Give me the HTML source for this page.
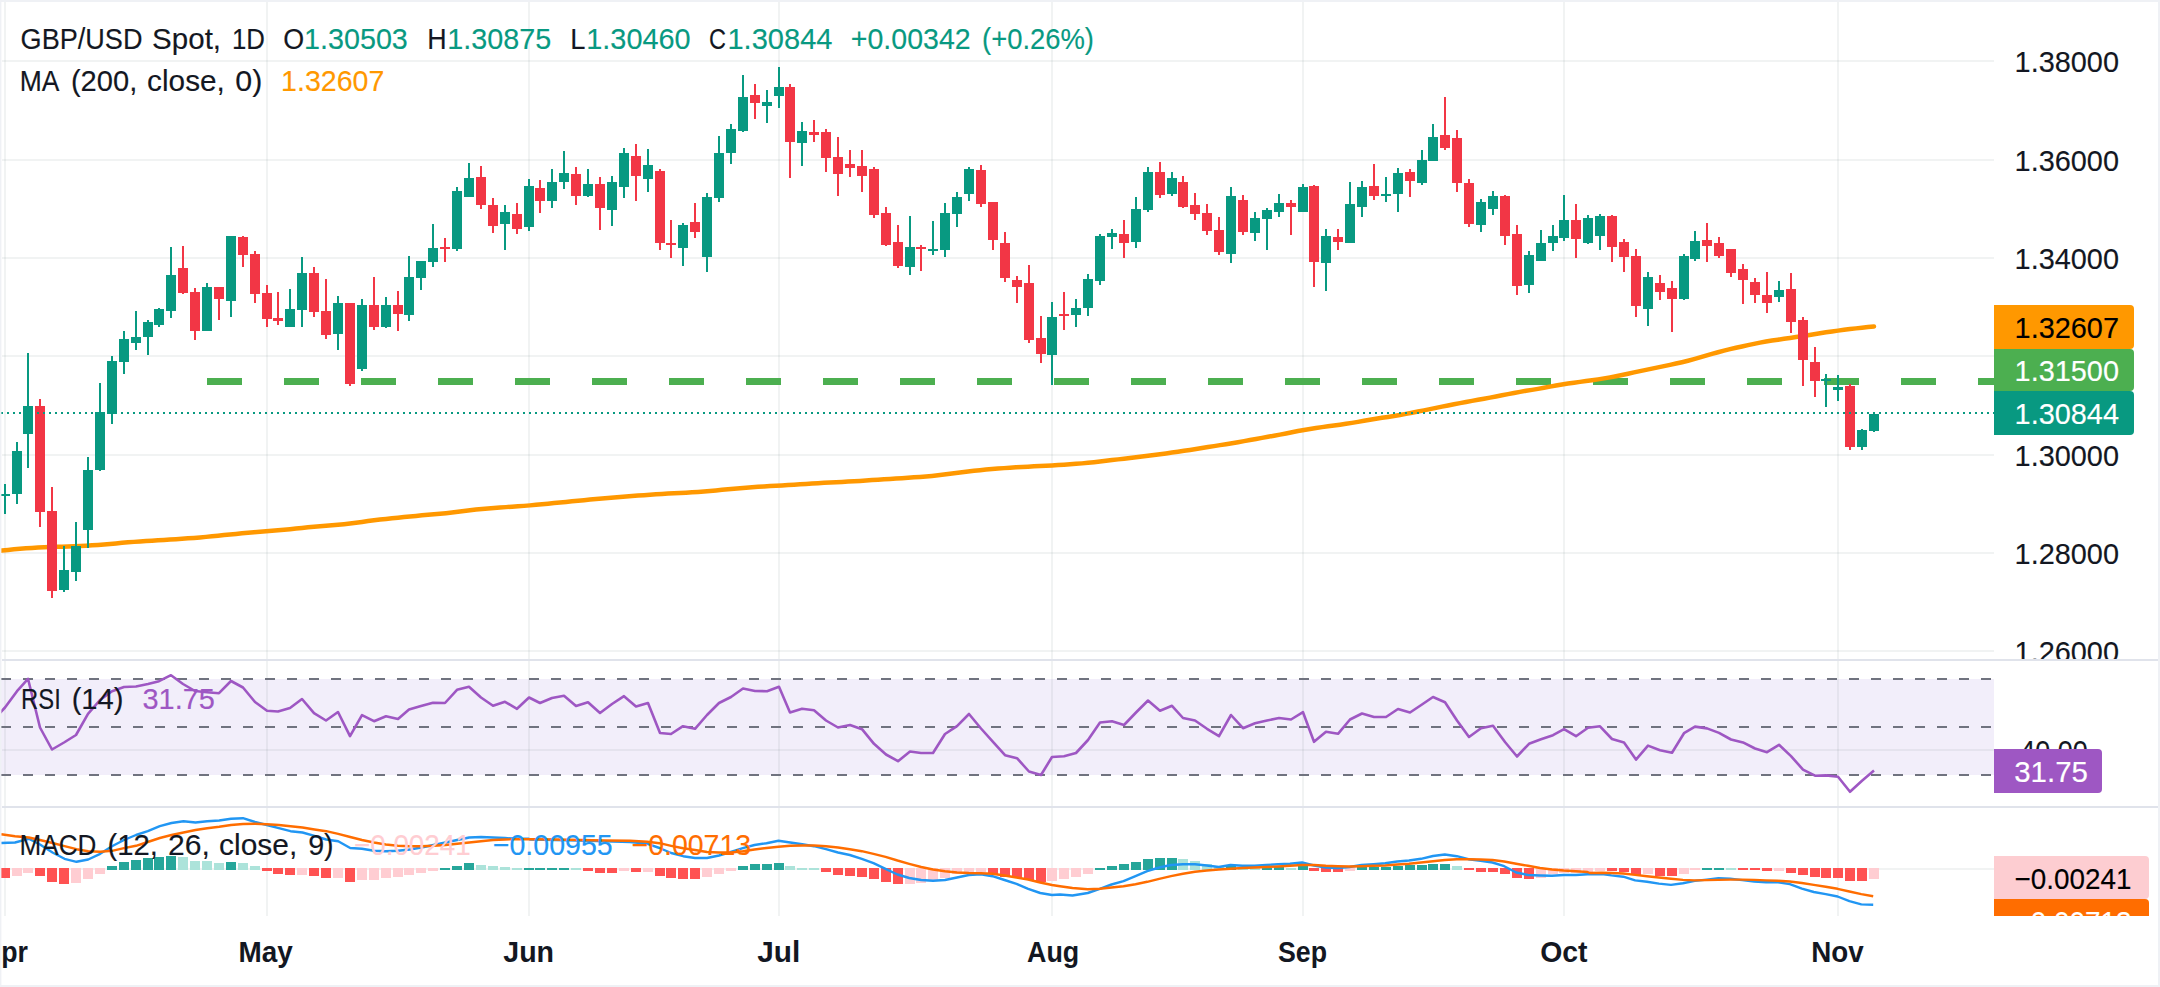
<!DOCTYPE html>
<html lang="en"><head><meta charset="utf-8"><title>GBP/USD Spot, 1D</title>
<style>html,body{margin:0;padding:0;background:#fff;}body{width:2160px;height:987px;overflow:hidden;}svg{display:block;}text{font-family:"Liberation Sans", Arial, sans-serif;}</style></head><body>
<svg width="2160" height="987" viewBox="0 0 2160 987">
<rect x="0" y="0" width="2160" height="987" fill="#ffffff"/>
<rect x="1" y="679" width="1993" height="96" fill="#f2eefa" shape-rendering="crispEdges"/>
<g shape-rendering="crispEdges" fill="rgb(80,105,105)" fill-opacity="0.08">
<rect x="2" y="60" width="1992" height="2"/>
<rect x="2" y="159" width="1992" height="2"/>
<rect x="2" y="257" width="1992" height="2"/>
<rect x="2" y="355" width="1992" height="2"/>
<rect x="2" y="454" width="1992" height="2"/>
<rect x="2" y="552" width="1992" height="2"/>
<rect x="2" y="650" width="1992" height="2"/>
<rect x="2" y="749" width="1992" height="2"/>
<rect x="2" y="868" width="1992" height="2"/>
<rect x="4" y="2" width="2" height="914"/>
<rect x="266" y="2" width="2" height="914"/>
<rect x="528" y="2" width="2" height="914"/>
<rect x="778" y="2" width="2" height="914"/>
<rect x="1051" y="2" width="2" height="914"/>
<rect x="1302" y="2" width="2" height="914"/>
<rect x="1563" y="2" width="2" height="914"/>
<rect x="1837" y="2" width="2" height="914"/>
</g>
<line x1="1" y1="679" x2="1994" y2="679" stroke="#70737f" stroke-width="2" stroke-dasharray="10 12" shape-rendering="crispEdges"/>
<line x1="1" y1="727" x2="1994" y2="727" stroke="#70737f" stroke-width="2" stroke-dasharray="10 12" shape-rendering="crispEdges"/>
<line x1="1" y1="775" x2="1994" y2="775" stroke="#70737f" stroke-width="2" stroke-dasharray="10 12" shape-rendering="crispEdges"/>
<clipPath id="cm"><rect x="0" y="0" width="2160" height="659"/></clipPath>
<g clip-path="url(#cm)">
<text x="2014.60" y="71.6" font-size="30" fill="#131722" stroke="#131722" stroke-width="0.15" textLength="104.40" lengthAdjust="spacingAndGlyphs">1.38000</text>
<text x="2014.60" y="170.6" font-size="30" fill="#131722" stroke="#131722" stroke-width="0.15" textLength="104.40" lengthAdjust="spacingAndGlyphs">1.36000</text>
<text x="2014.60" y="268.6" font-size="30" fill="#131722" stroke="#131722" stroke-width="0.15" textLength="104.40" lengthAdjust="spacingAndGlyphs">1.34000</text>
<text x="2014.60" y="465.6" font-size="30" fill="#131722" stroke="#131722" stroke-width="0.15" textLength="104.40" lengthAdjust="spacingAndGlyphs">1.30000</text>
<text x="2014.60" y="563.6" font-size="30" fill="#131722" stroke="#131722" stroke-width="0.15" textLength="104.40" lengthAdjust="spacingAndGlyphs">1.28000</text>
<text x="2014.60" y="661.6" font-size="30" fill="#131722" stroke="#131722" stroke-width="0.15" textLength="104.40" lengthAdjust="spacingAndGlyphs">1.26000</text>
</g>
<text x="2020.30" y="760.6" font-size="30" fill="#131722" stroke="#131722" stroke-width="0.15" textLength="67.31" lengthAdjust="spacingAndGlyphs">40.00</text>
<g shape-rendering="crispEdges" fill="#e0e3eb">
<rect x="2" y="659" width="2156" height="2"/>
<rect x="2" y="806" width="2156" height="2"/>
</g>
<g shape-rendering="crispEdges" fill="#4caf50">
<rect x="207.2" y="378" width="34.8" height="7"/>
<rect x="284.2" y="378" width="34.8" height="7"/>
<rect x="361.2" y="378" width="34.8" height="7"/>
<rect x="438.2" y="378" width="34.8" height="7"/>
<rect x="515.2" y="378" width="34.8" height="7"/>
<rect x="592.2" y="378" width="34.8" height="7"/>
<rect x="669.2" y="378" width="34.8" height="7"/>
<rect x="746.2" y="378" width="34.8" height="7"/>
<rect x="823.2" y="378" width="34.8" height="7"/>
<rect x="900.2" y="378" width="34.8" height="7"/>
<rect x="977.2" y="378" width="34.8" height="7"/>
<rect x="1054.2" y="378" width="34.8" height="7"/>
<rect x="1131.2" y="378" width="34.8" height="7"/>
<rect x="1208.2" y="378" width="34.8" height="7"/>
<rect x="1285.2" y="378" width="34.8" height="7"/>
<rect x="1362.2" y="378" width="34.8" height="7"/>
<rect x="1439.2" y="378" width="34.8" height="7"/>
<rect x="1516.2" y="378" width="34.8" height="7"/>
<rect x="1593.2" y="378" width="34.8" height="7"/>
<rect x="1670.2" y="378" width="34.8" height="7"/>
<rect x="1747.2" y="378" width="34.8" height="7"/>
<rect x="1824.2" y="378" width="34.8" height="7"/>
<rect x="1901.2" y="378" width="34.8" height="7"/>
<rect x="1978.2" y="378" width="15.8" height="7"/>
</g>
<polyline points="-4.0,551.00 2.0,550.46 8.0,549.90 14.0,549.33 20.0,548.79 26.0,548.32 32.0,547.93 38.0,547.61 44.0,547.31 50.0,547.06 56.0,546.83 62.0,546.64 68.0,546.45 74.0,546.23 80.0,545.98 86.0,545.69 92.0,545.37 98.0,544.99 104.0,544.53 110.0,543.99 116.0,543.41 122.0,542.85 128.0,542.34 134.0,541.88 140.0,541.45 146.0,541.04 152.0,540.65 158.0,540.28 164.0,539.91 170.0,539.54 176.0,539.16 182.0,538.75 188.0,538.34 194.0,537.90 200.0,537.42 206.0,536.88 212.0,536.30 218.0,535.70 224.0,535.10 230.0,534.50 236.0,533.90 242.0,533.32 248.0,532.76 254.0,532.25 260.0,531.79 266.0,531.32 272.0,530.84 278.0,530.32 284.0,529.77 290.0,529.18 296.0,528.55 302.0,527.91 308.0,527.28 314.0,526.70 320.0,526.17 326.0,525.67 332.0,525.19 338.0,524.70 344.0,524.18 350.0,523.55 356.0,522.80 362.0,521.95 368.0,521.08 374.0,520.27 380.0,519.55 386.0,518.91 392.0,518.30 398.0,517.70 404.0,517.10 410.0,516.50 416.0,515.91 422.0,515.34 428.0,514.80 434.0,514.29 440.0,513.78 446.0,513.23 452.0,512.59 458.0,511.85 464.0,511.05 470.0,510.27 476.0,509.57 482.0,508.98 488.0,508.47 494.0,507.99 500.0,507.54 506.0,507.13 512.0,506.73 518.0,506.33 524.0,505.88 530.0,505.38 536.0,504.83 542.0,504.26 548.0,503.67 554.0,503.09 560.0,502.50 566.0,501.90 572.0,501.31 578.0,500.72 584.0,500.15 590.0,499.60 596.0,499.06 602.0,498.54 608.0,498.03 614.0,497.53 620.0,497.05 626.0,496.57 632.0,496.09 638.0,495.61 644.0,495.14 650.0,494.68 656.0,494.27 662.0,493.92 668.0,493.60 674.0,493.29 680.0,492.97 686.0,492.63 692.0,492.28 698.0,491.89 704.0,491.46 710.0,490.96 716.0,490.39 722.0,489.81 728.0,489.24 734.0,488.71 740.0,488.21 746.0,487.73 752.0,487.28 758.0,486.86 764.0,486.47 770.0,486.10 776.0,485.74 782.0,485.38 788.0,485.02 794.0,484.66 800.0,484.30 806.0,483.94 812.0,483.58 818.0,483.22 824.0,482.87 830.0,482.53 836.0,482.21 842.0,481.90 848.0,481.59 854.0,481.25 860.0,480.88 866.0,480.48 872.0,480.06 878.0,479.66 884.0,479.27 890.0,478.90 896.0,478.54 902.0,478.16 908.0,477.77 914.0,477.36 920.0,476.93 926.0,476.46 932.0,475.90 938.0,475.26 944.0,474.56 950.0,473.84 956.0,473.10 962.0,472.33 968.0,471.56 974.0,470.82 980.0,470.14 986.0,469.56 992.0,469.05 998.0,468.57 1004.0,468.13 1010.0,467.72 1016.0,467.34 1022.0,466.99 1028.0,466.64 1034.0,466.31 1040.0,466.00 1046.0,465.70 1052.0,465.39 1058.0,465.06 1064.0,464.69 1070.0,464.29 1076.0,463.86 1082.0,463.37 1088.0,462.80 1094.0,462.15 1100.0,461.45 1106.0,460.74 1112.0,460.05 1118.0,459.38 1124.0,458.71 1130.0,458.03 1136.0,457.32 1142.0,456.58 1148.0,455.81 1154.0,455.02 1160.0,454.22 1166.0,453.40 1172.0,452.57 1178.0,451.72 1184.0,450.84 1190.0,449.93 1196.0,448.99 1202.0,448.03 1208.0,447.07 1214.0,446.11 1220.0,445.15 1226.0,444.18 1232.0,443.19 1238.0,442.17 1244.0,441.12 1250.0,440.05 1256.0,438.97 1262.0,437.89 1268.0,436.81 1274.0,435.72 1280.0,434.61 1286.0,433.45 1292.0,432.24 1298.0,431.04 1304.0,429.92 1310.0,428.91 1316.0,427.99 1322.0,427.13 1328.0,426.30 1334.0,425.50 1340.0,424.70 1346.0,423.83 1352.0,422.88 1358.0,421.85 1364.0,420.79 1370.0,419.76 1376.0,418.77 1382.0,417.83 1388.0,416.91 1394.0,415.96 1400.0,414.95 1406.0,413.87 1412.0,412.74 1418.0,411.58 1424.0,410.39 1430.0,409.16 1436.0,407.92 1442.0,406.67 1448.0,405.46 1454.0,404.28 1460.0,403.13 1466.0,401.99 1472.0,400.87 1478.0,399.77 1484.0,398.68 1490.0,397.59 1496.0,396.47 1502.0,395.32 1508.0,394.15 1514.0,392.98 1520.0,391.86 1526.0,390.84 1532.0,389.88 1538.0,388.89 1544.0,387.80 1550.0,386.63 1556.0,385.47 1562.0,384.42 1568.0,383.50 1574.0,382.68 1580.0,381.89 1586.0,381.09 1592.0,380.25 1598.0,379.36 1604.0,378.40 1610.0,377.36 1616.0,376.23 1622.0,375.01 1628.0,373.72 1634.0,372.42 1640.0,371.12 1646.0,369.85 1652.0,368.61 1658.0,367.37 1664.0,366.13 1670.0,364.86 1676.0,363.56 1682.0,362.20 1688.0,360.75 1694.0,359.16 1700.0,357.45 1706.0,355.67 1712.0,353.93 1718.0,352.26 1724.0,350.68 1730.0,349.18 1736.0,347.78 1742.0,346.43 1748.0,345.12 1754.0,343.83 1760.0,342.61 1766.0,341.52 1772.0,340.55 1778.0,339.67 1784.0,338.82 1790.0,337.96 1796.0,337.07 1802.0,336.14 1808.0,335.17 1814.0,334.19 1820.0,333.23 1826.0,332.32 1832.0,331.45 1838.0,330.62 1844.0,329.83 1850.0,329.08 1856.0,328.37 1862.0,327.70 1868.0,327.04 1874.0,326.40" fill="none" stroke="#ff9800" stroke-width="4.5" stroke-linejoin="round" stroke-linecap="round"/>
<g shape-rendering="crispEdges">
<rect x="4" y="484" width="2" height="30" fill="#089981"/>
<rect x="0" y="494" width="10" height="2" fill="#089981"/>
<rect x="16" y="442" width="2" height="62" fill="#089981"/>
<rect x="12" y="451" width="10" height="43" fill="#089981"/>
<rect x="27" y="353" width="2" height="115" fill="#089981"/>
<rect x="23" y="406" width="10" height="28" fill="#089981"/>
<rect x="39" y="399" width="2" height="128" fill="#f23645"/>
<rect x="35" y="406" width="10" height="106" fill="#f23645"/>
<rect x="51" y="487" width="2" height="111" fill="#f23645"/>
<rect x="47" y="511" width="10" height="80" fill="#f23645"/>
<rect x="63" y="546" width="2" height="46" fill="#089981"/>
<rect x="59" y="570" width="10" height="20" fill="#089981"/>
<rect x="75" y="522" width="2" height="59" fill="#089981"/>
<rect x="71" y="546" width="10" height="26" fill="#089981"/>
<rect x="87" y="457" width="2" height="91" fill="#089981"/>
<rect x="83" y="470" width="10" height="60" fill="#089981"/>
<rect x="99" y="383" width="2" height="88" fill="#089981"/>
<rect x="95" y="412" width="10" height="58" fill="#089981"/>
<rect x="111" y="356" width="2" height="68" fill="#089981"/>
<rect x="107" y="361" width="10" height="53" fill="#089981"/>
<rect x="123" y="331" width="2" height="43" fill="#089981"/>
<rect x="119" y="339" width="10" height="23" fill="#089981"/>
<rect x="135" y="311" width="2" height="39" fill="#089981"/>
<rect x="131" y="337" width="10" height="6" fill="#089981"/>
<rect x="147" y="320" width="2" height="35" fill="#089981"/>
<rect x="143" y="322" width="10" height="15" fill="#089981"/>
<rect x="158" y="308" width="2" height="19" fill="#089981"/>
<rect x="154" y="309" width="10" height="16" fill="#089981"/>
<rect x="170" y="247" width="2" height="71" fill="#089981"/>
<rect x="166" y="275" width="10" height="36" fill="#089981"/>
<rect x="182" y="246" width="2" height="48" fill="#f23645"/>
<rect x="178" y="268" width="10" height="25" fill="#f23645"/>
<rect x="194" y="288" width="2" height="52" fill="#f23645"/>
<rect x="190" y="292" width="10" height="39" fill="#f23645"/>
<rect x="206" y="283" width="2" height="48" fill="#089981"/>
<rect x="202" y="287" width="10" height="44" fill="#089981"/>
<rect x="218" y="287" width="2" height="33" fill="#f23645"/>
<rect x="214" y="287" width="10" height="12" fill="#f23645"/>
<rect x="230" y="236" width="2" height="81" fill="#089981"/>
<rect x="226" y="236" width="10" height="65" fill="#089981"/>
<rect x="242" y="236" width="2" height="31" fill="#f23645"/>
<rect x="238" y="237" width="10" height="18" fill="#f23645"/>
<rect x="254" y="251" width="2" height="52" fill="#f23645"/>
<rect x="250" y="254" width="10" height="40" fill="#f23645"/>
<rect x="266" y="285" width="2" height="42" fill="#f23645"/>
<rect x="262" y="293" width="10" height="26" fill="#f23645"/>
<rect x="277" y="292" width="2" height="33" fill="#f23645"/>
<rect x="273" y="318" width="10" height="3" fill="#f23645"/>
<rect x="289" y="289" width="2" height="38" fill="#089981"/>
<rect x="285" y="309" width="10" height="18" fill="#089981"/>
<rect x="301" y="257" width="2" height="70" fill="#089981"/>
<rect x="297" y="273" width="10" height="37" fill="#089981"/>
<rect x="313" y="267" width="2" height="50" fill="#f23645"/>
<rect x="309" y="273" width="10" height="39" fill="#f23645"/>
<rect x="325" y="279" width="2" height="60" fill="#f23645"/>
<rect x="321" y="311" width="10" height="24" fill="#f23645"/>
<rect x="337" y="296" width="2" height="54" fill="#089981"/>
<rect x="333" y="303" width="10" height="31" fill="#089981"/>
<rect x="349" y="303" width="2" height="83" fill="#f23645"/>
<rect x="345" y="303" width="10" height="81" fill="#f23645"/>
<rect x="361" y="299" width="2" height="72" fill="#089981"/>
<rect x="357" y="305" width="10" height="64" fill="#089981"/>
<rect x="373" y="277" width="2" height="53" fill="#f23645"/>
<rect x="369" y="305" width="10" height="22" fill="#f23645"/>
<rect x="385" y="297" width="2" height="31" fill="#089981"/>
<rect x="381" y="305" width="10" height="22" fill="#089981"/>
<rect x="397" y="291" width="2" height="40" fill="#f23645"/>
<rect x="393" y="305" width="10" height="9" fill="#f23645"/>
<rect x="408" y="256" width="2" height="65" fill="#089981"/>
<rect x="404" y="277" width="10" height="38" fill="#089981"/>
<rect x="420" y="261" width="2" height="29" fill="#089981"/>
<rect x="416" y="261" width="10" height="17" fill="#089981"/>
<rect x="432" y="224" width="2" height="43" fill="#089981"/>
<rect x="428" y="248" width="10" height="14" fill="#089981"/>
<rect x="444" y="238" width="2" height="24" fill="#f23645"/>
<rect x="440" y="247" width="10" height="2" fill="#f23645"/>
<rect x="456" y="187" width="2" height="64" fill="#089981"/>
<rect x="452" y="191" width="10" height="58" fill="#089981"/>
<rect x="468" y="163" width="2" height="34" fill="#089981"/>
<rect x="464" y="178" width="10" height="19" fill="#089981"/>
<rect x="480" y="166" width="2" height="43" fill="#f23645"/>
<rect x="476" y="177" width="10" height="28" fill="#f23645"/>
<rect x="492" y="198" width="2" height="35" fill="#f23645"/>
<rect x="488" y="205" width="10" height="21" fill="#f23645"/>
<rect x="504" y="205" width="2" height="45" fill="#089981"/>
<rect x="500" y="212" width="10" height="12" fill="#089981"/>
<rect x="516" y="203" width="2" height="31" fill="#f23645"/>
<rect x="512" y="214" width="10" height="15" fill="#f23645"/>
<rect x="528" y="179" width="2" height="52" fill="#089981"/>
<rect x="524" y="186" width="10" height="41" fill="#089981"/>
<rect x="539" y="180" width="2" height="33" fill="#f23645"/>
<rect x="535" y="188" width="10" height="13" fill="#f23645"/>
<rect x="551" y="169" width="2" height="39" fill="#089981"/>
<rect x="547" y="182" width="10" height="19" fill="#089981"/>
<rect x="563" y="151" width="2" height="38" fill="#089981"/>
<rect x="559" y="173" width="10" height="9" fill="#089981"/>
<rect x="575" y="167" width="2" height="38" fill="#f23645"/>
<rect x="571" y="174" width="10" height="22" fill="#f23645"/>
<rect x="587" y="169" width="2" height="28" fill="#089981"/>
<rect x="583" y="184" width="10" height="12" fill="#089981"/>
<rect x="599" y="177" width="2" height="53" fill="#f23645"/>
<rect x="595" y="184" width="10" height="24" fill="#f23645"/>
<rect x="611" y="176" width="2" height="50" fill="#089981"/>
<rect x="607" y="182" width="10" height="28" fill="#089981"/>
<rect x="623" y="148" width="2" height="50" fill="#089981"/>
<rect x="619" y="153" width="10" height="34" fill="#089981"/>
<rect x="635" y="144" width="2" height="57" fill="#f23645"/>
<rect x="631" y="156" width="10" height="20" fill="#f23645"/>
<rect x="647" y="149" width="2" height="43" fill="#089981"/>
<rect x="643" y="165" width="10" height="14" fill="#089981"/>
<rect x="659" y="169" width="2" height="81" fill="#f23645"/>
<rect x="655" y="171" width="10" height="72" fill="#f23645"/>
<rect x="670" y="220" width="2" height="38" fill="#f23645"/>
<rect x="666" y="243" width="10" height="2" fill="#f23645"/>
<rect x="682" y="223" width="2" height="43" fill="#089981"/>
<rect x="678" y="225" width="10" height="23" fill="#089981"/>
<rect x="694" y="203" width="2" height="35" fill="#f23645"/>
<rect x="690" y="222" width="10" height="10" fill="#f23645"/>
<rect x="706" y="193" width="2" height="79" fill="#089981"/>
<rect x="702" y="197" width="10" height="60" fill="#089981"/>
<rect x="718" y="136" width="2" height="66" fill="#089981"/>
<rect x="714" y="153" width="10" height="45" fill="#089981"/>
<rect x="730" y="124" width="2" height="40" fill="#089981"/>
<rect x="726" y="129" width="10" height="24" fill="#089981"/>
<rect x="742" y="75" width="2" height="57" fill="#089981"/>
<rect x="738" y="97" width="10" height="34" fill="#089981"/>
<rect x="754" y="84" width="2" height="35" fill="#f23645"/>
<rect x="750" y="95" width="10" height="8" fill="#f23645"/>
<rect x="766" y="90" width="2" height="33" fill="#089981"/>
<rect x="762" y="102" width="10" height="4" fill="#089981"/>
<rect x="778" y="67" width="2" height="41" fill="#089981"/>
<rect x="774" y="87" width="10" height="9" fill="#089981"/>
<rect x="789" y="84" width="2" height="94" fill="#f23645"/>
<rect x="785" y="87" width="10" height="55" fill="#f23645"/>
<rect x="801" y="122" width="2" height="44" fill="#089981"/>
<rect x="797" y="131" width="10" height="12" fill="#089981"/>
<rect x="813" y="120" width="2" height="22" fill="#f23645"/>
<rect x="809" y="132" width="10" height="3" fill="#f23645"/>
<rect x="825" y="129" width="2" height="43" fill="#f23645"/>
<rect x="821" y="132" width="10" height="26" fill="#f23645"/>
<rect x="837" y="137" width="2" height="59" fill="#f23645"/>
<rect x="833" y="157" width="10" height="17" fill="#f23645"/>
<rect x="849" y="150" width="2" height="27" fill="#f23645"/>
<rect x="845" y="164" width="10" height="4" fill="#f23645"/>
<rect x="861" y="150" width="2" height="42" fill="#f23645"/>
<rect x="857" y="166" width="10" height="10" fill="#f23645"/>
<rect x="873" y="167" width="2" height="51" fill="#f23645"/>
<rect x="869" y="169" width="10" height="46" fill="#f23645"/>
<rect x="885" y="207" width="2" height="39" fill="#f23645"/>
<rect x="881" y="213" width="10" height="32" fill="#f23645"/>
<rect x="897" y="225" width="2" height="43" fill="#f23645"/>
<rect x="893" y="242" width="10" height="24" fill="#f23645"/>
<rect x="909" y="216" width="2" height="59" fill="#089981"/>
<rect x="905" y="247" width="10" height="20" fill="#089981"/>
<rect x="920" y="245" width="2" height="26" fill="#f23645"/>
<rect x="916" y="247" width="10" height="2" fill="#f23645"/>
<rect x="932" y="221" width="2" height="34" fill="#089981"/>
<rect x="928" y="249" width="10" height="2" fill="#089981"/>
<rect x="944" y="203" width="2" height="54" fill="#089981"/>
<rect x="940" y="213" width="10" height="37" fill="#089981"/>
<rect x="956" y="192" width="2" height="35" fill="#089981"/>
<rect x="952" y="197" width="10" height="17" fill="#089981"/>
<rect x="968" y="167" width="2" height="34" fill="#089981"/>
<rect x="964" y="169" width="10" height="25" fill="#089981"/>
<rect x="980" y="165" width="2" height="42" fill="#f23645"/>
<rect x="976" y="170" width="10" height="34" fill="#f23645"/>
<rect x="992" y="202" width="2" height="48" fill="#f23645"/>
<rect x="988" y="202" width="10" height="38" fill="#f23645"/>
<rect x="1004" y="232" width="2" height="50" fill="#f23645"/>
<rect x="1000" y="243" width="10" height="35" fill="#f23645"/>
<rect x="1016" y="276" width="2" height="27" fill="#f23645"/>
<rect x="1012" y="280" width="10" height="7" fill="#f23645"/>
<rect x="1028" y="265" width="2" height="78" fill="#f23645"/>
<rect x="1024" y="283" width="10" height="57" fill="#f23645"/>
<rect x="1040" y="316" width="2" height="47" fill="#f23645"/>
<rect x="1036" y="338" width="10" height="16" fill="#f23645"/>
<rect x="1051" y="302" width="2" height="83" fill="#089981"/>
<rect x="1047" y="317" width="10" height="38" fill="#089981"/>
<rect x="1063" y="292" width="2" height="38" fill="#f23645"/>
<rect x="1059" y="314" width="10" height="2" fill="#f23645"/>
<rect x="1075" y="299" width="2" height="28" fill="#089981"/>
<rect x="1071" y="308" width="10" height="7" fill="#089981"/>
<rect x="1087" y="274" width="2" height="42" fill="#089981"/>
<rect x="1083" y="279" width="10" height="29" fill="#089981"/>
<rect x="1099" y="234" width="2" height="51" fill="#089981"/>
<rect x="1095" y="236" width="10" height="45" fill="#089981"/>
<rect x="1111" y="229" width="2" height="20" fill="#089981"/>
<rect x="1107" y="233" width="10" height="4" fill="#089981"/>
<rect x="1123" y="220" width="2" height="38" fill="#f23645"/>
<rect x="1119" y="234" width="10" height="9" fill="#f23645"/>
<rect x="1135" y="197" width="2" height="51" fill="#089981"/>
<rect x="1131" y="209" width="10" height="33" fill="#089981"/>
<rect x="1147" y="167" width="2" height="45" fill="#089981"/>
<rect x="1143" y="172" width="10" height="38" fill="#089981"/>
<rect x="1159" y="162" width="2" height="36" fill="#f23645"/>
<rect x="1155" y="172" width="10" height="23" fill="#f23645"/>
<rect x="1171" y="172" width="2" height="24" fill="#089981"/>
<rect x="1167" y="178" width="10" height="16" fill="#089981"/>
<rect x="1182" y="176" width="2" height="32" fill="#f23645"/>
<rect x="1178" y="182" width="10" height="25" fill="#f23645"/>
<rect x="1194" y="193" width="2" height="27" fill="#f23645"/>
<rect x="1190" y="205" width="10" height="9" fill="#f23645"/>
<rect x="1206" y="204" width="2" height="31" fill="#f23645"/>
<rect x="1202" y="213" width="10" height="18" fill="#f23645"/>
<rect x="1218" y="217" width="2" height="38" fill="#f23645"/>
<rect x="1214" y="230" width="10" height="22" fill="#f23645"/>
<rect x="1230" y="187" width="2" height="76" fill="#089981"/>
<rect x="1226" y="196" width="10" height="58" fill="#089981"/>
<rect x="1242" y="195" width="2" height="40" fill="#f23645"/>
<rect x="1238" y="200" width="10" height="32" fill="#f23645"/>
<rect x="1254" y="212" width="2" height="29" fill="#089981"/>
<rect x="1250" y="218" width="10" height="15" fill="#089981"/>
<rect x="1266" y="208" width="2" height="42" fill="#089981"/>
<rect x="1262" y="210" width="10" height="9" fill="#089981"/>
<rect x="1278" y="194" width="2" height="23" fill="#089981"/>
<rect x="1274" y="203" width="10" height="9" fill="#089981"/>
<rect x="1290" y="200" width="2" height="35" fill="#f23645"/>
<rect x="1286" y="203" width="10" height="4" fill="#f23645"/>
<rect x="1302" y="184" width="2" height="28" fill="#089981"/>
<rect x="1298" y="187" width="10" height="25" fill="#089981"/>
<rect x="1313" y="185" width="2" height="102" fill="#f23645"/>
<rect x="1309" y="186" width="10" height="76" fill="#f23645"/>
<rect x="1325" y="229" width="2" height="62" fill="#089981"/>
<rect x="1321" y="236" width="10" height="27" fill="#089981"/>
<rect x="1337" y="229" width="2" height="21" fill="#f23645"/>
<rect x="1333" y="237" width="10" height="5" fill="#f23645"/>
<rect x="1349" y="182" width="2" height="61" fill="#089981"/>
<rect x="1345" y="204" width="10" height="39" fill="#089981"/>
<rect x="1361" y="181" width="2" height="36" fill="#089981"/>
<rect x="1357" y="187" width="10" height="20" fill="#089981"/>
<rect x="1373" y="164" width="2" height="36" fill="#f23645"/>
<rect x="1369" y="186" width="10" height="10" fill="#f23645"/>
<rect x="1385" y="177" width="2" height="25" fill="#089981"/>
<rect x="1381" y="194" width="10" height="2" fill="#089981"/>
<rect x="1397" y="168" width="2" height="44" fill="#089981"/>
<rect x="1393" y="173" width="10" height="21" fill="#089981"/>
<rect x="1409" y="169" width="2" height="28" fill="#f23645"/>
<rect x="1405" y="172" width="10" height="9" fill="#f23645"/>
<rect x="1421" y="150" width="2" height="35" fill="#089981"/>
<rect x="1417" y="160" width="10" height="23" fill="#089981"/>
<rect x="1432" y="124" width="2" height="37" fill="#089981"/>
<rect x="1428" y="137" width="10" height="24" fill="#089981"/>
<rect x="1444" y="97" width="2" height="53" fill="#f23645"/>
<rect x="1440" y="135" width="10" height="13" fill="#f23645"/>
<rect x="1456" y="130" width="2" height="62" fill="#f23645"/>
<rect x="1452" y="138" width="10" height="45" fill="#f23645"/>
<rect x="1468" y="179" width="2" height="48" fill="#f23645"/>
<rect x="1464" y="183" width="10" height="41" fill="#f23645"/>
<rect x="1480" y="199" width="2" height="33" fill="#089981"/>
<rect x="1476" y="202" width="10" height="23" fill="#089981"/>
<rect x="1492" y="191" width="2" height="24" fill="#089981"/>
<rect x="1488" y="196" width="10" height="13" fill="#089981"/>
<rect x="1504" y="195" width="2" height="50" fill="#f23645"/>
<rect x="1500" y="196" width="10" height="40" fill="#f23645"/>
<rect x="1516" y="225" width="2" height="70" fill="#f23645"/>
<rect x="1512" y="234" width="10" height="52" fill="#f23645"/>
<rect x="1528" y="251" width="2" height="42" fill="#089981"/>
<rect x="1524" y="255" width="10" height="30" fill="#089981"/>
<rect x="1540" y="230" width="2" height="31" fill="#089981"/>
<rect x="1536" y="243" width="10" height="18" fill="#089981"/>
<rect x="1552" y="225" width="2" height="26" fill="#089981"/>
<rect x="1548" y="236" width="10" height="7" fill="#089981"/>
<rect x="1563" y="195" width="2" height="46" fill="#089981"/>
<rect x="1559" y="220" width="10" height="18" fill="#089981"/>
<rect x="1575" y="204" width="2" height="54" fill="#f23645"/>
<rect x="1571" y="220" width="10" height="19" fill="#f23645"/>
<rect x="1587" y="215" width="2" height="29" fill="#089981"/>
<rect x="1583" y="218" width="10" height="25" fill="#089981"/>
<rect x="1599" y="214" width="2" height="36" fill="#089981"/>
<rect x="1595" y="216" width="10" height="20" fill="#089981"/>
<rect x="1611" y="215" width="2" height="47" fill="#f23645"/>
<rect x="1607" y="216" width="10" height="31" fill="#f23645"/>
<rect x="1623" y="239" width="2" height="33" fill="#f23645"/>
<rect x="1619" y="242" width="10" height="15" fill="#f23645"/>
<rect x="1635" y="249" width="2" height="68" fill="#f23645"/>
<rect x="1631" y="256" width="10" height="50" fill="#f23645"/>
<rect x="1647" y="272" width="2" height="54" fill="#089981"/>
<rect x="1643" y="277" width="10" height="32" fill="#089981"/>
<rect x="1659" y="275" width="2" height="25" fill="#f23645"/>
<rect x="1655" y="283" width="10" height="9" fill="#f23645"/>
<rect x="1671" y="281" width="2" height="51" fill="#f23645"/>
<rect x="1667" y="288" width="10" height="11" fill="#f23645"/>
<rect x="1683" y="254" width="2" height="46" fill="#089981"/>
<rect x="1679" y="256" width="10" height="43" fill="#089981"/>
<rect x="1694" y="231" width="2" height="30" fill="#089981"/>
<rect x="1690" y="241" width="10" height="18" fill="#089981"/>
<rect x="1706" y="223" width="2" height="39" fill="#f23645"/>
<rect x="1702" y="240" width="10" height="6" fill="#f23645"/>
<rect x="1718" y="237" width="2" height="21" fill="#f23645"/>
<rect x="1714" y="243" width="10" height="13" fill="#f23645"/>
<rect x="1730" y="249" width="2" height="28" fill="#f23645"/>
<rect x="1726" y="249" width="10" height="24" fill="#f23645"/>
<rect x="1742" y="264" width="2" height="40" fill="#f23645"/>
<rect x="1738" y="269" width="10" height="11" fill="#f23645"/>
<rect x="1754" y="278" width="2" height="25" fill="#f23645"/>
<rect x="1750" y="282" width="10" height="13" fill="#f23645"/>
<rect x="1766" y="272" width="2" height="41" fill="#f23645"/>
<rect x="1762" y="295" width="10" height="8" fill="#f23645"/>
<rect x="1778" y="281" width="2" height="21" fill="#089981"/>
<rect x="1774" y="290" width="10" height="7" fill="#089981"/>
<rect x="1790" y="273" width="2" height="60" fill="#f23645"/>
<rect x="1786" y="289" width="10" height="33" fill="#f23645"/>
<rect x="1802" y="317" width="2" height="69" fill="#f23645"/>
<rect x="1798" y="320" width="10" height="40" fill="#f23645"/>
<rect x="1814" y="347" width="2" height="50" fill="#f23645"/>
<rect x="1810" y="362" width="10" height="19" fill="#f23645"/>
<rect x="1825" y="374" width="2" height="33" fill="#089981"/>
<rect x="1821" y="379" width="10" height="2" fill="#089981"/>
<rect x="1837" y="375" width="2" height="26" fill="#089981"/>
<rect x="1833" y="387" width="10" height="3" fill="#089981"/>
<rect x="1849" y="384" width="2" height="66" fill="#f23645"/>
<rect x="1845" y="386" width="10" height="61" fill="#f23645"/>
<rect x="1861" y="429" width="2" height="21" fill="#089981"/>
<rect x="1857" y="430" width="10" height="17" fill="#089981"/>
<rect x="1873" y="413" width="2" height="19" fill="#089981"/>
<rect x="1869" y="414" width="10" height="17" fill="#089981"/>
</g>
<line x1="1" y1="413" x2="1994" y2="413" stroke="#089981" stroke-width="2" stroke-dasharray="2 4" shape-rendering="crispEdges"/>
<polyline points="-7,720.5 5.0,707.5 17.0,691.2 28.0,678.8 40.0,727.5 52.0,749.5 64.0,742.5 76.0,735.0 88.0,713.8 100.0,700.0 112.0,691.2 124.0,687.0 136.0,686.5 148.0,684.0 159.0,681.2 171.0,675.2 183.0,684.0 195.0,691.0 207.0,692.2 219.0,693.2 231.0,681.0 243.0,687.5 255.0,702.0 267.0,710.8 278.0,711.5 290.0,708.0 302.0,699.0 314.0,713.2 326.0,720.5 338.0,712.0 350.0,736.2 362.0,715.2 374.0,721.2 386.0,716.2 398.0,719.0 409.0,709.5 421.0,706.0 433.0,702.8 445.0,703.0 457.0,689.8 469.0,686.8 481.0,697.5 493.0,705.8 505.0,701.8 517.0,708.8 529.0,697.5 540.0,703.0 552.0,698.0 564.0,695.8 576.0,706.0 588.0,702.2 600.0,713.0 612.0,704.0 624.0,696.2 636.0,706.5 648.0,703.0 660.0,733.0 671.0,734.0 683.0,726.2 695.0,728.8 707.0,715.0 719.0,703.0 731.0,697.0 743.0,688.5 755.0,691.0 767.0,691.2 779.0,686.8 790.0,712.5 802.0,708.8 814.0,710.2 826.0,720.5 838.0,727.5 850.0,725.0 862.0,729.2 874.0,743.8 886.0,754.5 898.0,761.2 910.0,751.5 921.0,753.0 933.0,753.0 945.0,734.0 957.0,726.2 969.0,714.0 981.0,728.5 993.0,741.8 1005.0,755.2 1017.0,758.2 1029.0,771.5 1041.0,775.0 1052.0,757.0 1064.0,756.2 1076.0,753.0 1088.0,740.0 1100.0,722.5 1112.0,721.2 1124.0,725.0 1136.0,712.5 1148.0,700.5 1160.0,710.8 1172.0,705.8 1183.0,718.0 1195.0,720.5 1207.0,728.8 1219.0,736.2 1231.0,715.0 1243.0,728.2 1255.0,723.2 1267.0,720.5 1279.0,718.0 1291.0,719.5 1303.0,712.2 1314.0,741.8 1326.0,731.8 1338.0,733.8 1350.0,719.5 1362.0,713.5 1374.0,717.0 1386.0,717.0 1398.0,709.0 1410.0,712.5 1422.0,704.5 1433.0,697.0 1445.0,702.2 1457.0,720.5 1469.0,737.0 1481.0,728.2 1493.0,725.8 1505.0,742.0 1517.0,756.5 1529.0,743.8 1541.0,739.2 1553.0,735.2 1564.0,729.2 1576.0,736.2 1588.0,727.8 1600.0,726.3 1612.0,739.0 1624.0,742.4 1636.0,759.6 1648.0,745.6 1660.0,750.3 1672.0,752.7 1684.0,733.2 1695.0,726.6 1707.0,728.4 1719.0,732.9 1731.0,739.5 1743.0,742.4 1755.0,748.5 1767.0,752.2 1779.0,744.8 1791.0,756.1 1803.0,769.6 1815.0,775.7 1826.0,775.4 1838.0,776.7 1850.0,791.8 1862.0,780.7 1874.0,770.6" fill="none" stroke="#9e57c3" stroke-width="2.6" stroke-linejoin="round"/>
<clipPath id="cd"><rect x="0" y="808" width="2160" height="108"/></clipPath>
<g clip-path="url(#cd)">
<g shape-rendering="crispEdges">
<rect x="0" y="868" width="10" height="10" fill="#ff5252"/>
<rect x="12" y="868" width="10" height="8" fill="#ffcdd2"/>
<rect x="23" y="868" width="10" height="5" fill="#ffcdd2"/>
<rect x="35" y="868" width="10" height="8" fill="#ff5252"/>
<rect x="47" y="868" width="10" height="14" fill="#ff5252"/>
<rect x="59" y="868" width="10" height="16" fill="#ff5252"/>
<rect x="71" y="868" width="10" height="15" fill="#ffcdd2"/>
<rect x="83" y="868" width="10" height="11" fill="#ffcdd2"/>
<rect x="95" y="868" width="10" height="6" fill="#ffcdd2"/>
<rect x="107" y="866" width="10" height="4" fill="#26a69a"/>
<rect x="119" y="862" width="10" height="8" fill="#26a69a"/>
<rect x="131" y="860" width="10" height="10" fill="#26a69a"/>
<rect x="143" y="858" width="10" height="12" fill="#26a69a"/>
<rect x="154" y="857" width="10" height="13" fill="#26a69a"/>
<rect x="166" y="856" width="10" height="14" fill="#26a69a"/>
<rect x="178" y="857" width="10" height="13" fill="#ace3da"/>
<rect x="190" y="861" width="10" height="9" fill="#ace3da"/>
<rect x="202" y="861" width="10" height="9" fill="#ace3da"/>
<rect x="214" y="863" width="10" height="7" fill="#ace3da"/>
<rect x="226" y="862" width="10" height="8" fill="#26a69a"/>
<rect x="238" y="863" width="10" height="7" fill="#ace3da"/>
<rect x="250" y="866" width="10" height="4" fill="#ace3da"/>
<rect x="262" y="868" width="10" height="3" fill="#ff5252"/>
<rect x="273" y="868" width="10" height="6" fill="#ff5252"/>
<rect x="285" y="868" width="10" height="7" fill="#ff5252"/>
<rect x="297" y="868" width="10" height="7" fill="#ffcdd2"/>
<rect x="309" y="868" width="10" height="8" fill="#ff5252"/>
<rect x="321" y="868" width="10" height="10" fill="#ff5252"/>
<rect x="333" y="868" width="10" height="10" fill="#ffcdd2"/>
<rect x="345" y="868" width="10" height="14" fill="#ff5252"/>
<rect x="357" y="868" width="10" height="12" fill="#ffcdd2"/>
<rect x="369" y="868" width="10" height="12" fill="#ffcdd2"/>
<rect x="381" y="868" width="10" height="10" fill="#ffcdd2"/>
<rect x="393" y="868" width="10" height="9" fill="#ffcdd2"/>
<rect x="404" y="868" width="10" height="7" fill="#ffcdd2"/>
<rect x="416" y="868" width="10" height="5" fill="#ffcdd2"/>
<rect x="428" y="868" width="10" height="3" fill="#ffcdd2"/>
<rect x="440" y="868" width="10" height="2" fill="#26a69a"/>
<rect x="452" y="866" width="10" height="4" fill="#26a69a"/>
<rect x="464" y="863" width="10" height="7" fill="#26a69a"/>
<rect x="476" y="865" width="10" height="5" fill="#ace3da"/>
<rect x="488" y="866" width="10" height="4" fill="#ace3da"/>
<rect x="500" y="867" width="10" height="3" fill="#ace3da"/>
<rect x="512" y="868" width="10" height="2" fill="#ace3da"/>
<rect x="524" y="868" width="10" height="2" fill="#26a69a"/>
<rect x="535" y="868" width="10" height="2" fill="#26a69a"/>
<rect x="547" y="868" width="10" height="2" fill="#26a69a"/>
<rect x="559" y="868" width="10" height="2" fill="#26a69a"/>
<rect x="571" y="868" width="10" height="2" fill="#ace3da"/>
<rect x="583" y="868" width="10" height="3" fill="#ff5252"/>
<rect x="595" y="868" width="10" height="5" fill="#ff5252"/>
<rect x="607" y="868" width="10" height="5" fill="#ff5252"/>
<rect x="619" y="868" width="10" height="3" fill="#ffcdd2"/>
<rect x="631" y="868" width="10" height="4" fill="#ff5252"/>
<rect x="643" y="868" width="10" height="4" fill="#ffcdd2"/>
<rect x="655" y="868" width="10" height="8" fill="#ff5252"/>
<rect x="666" y="868" width="10" height="10" fill="#ff5252"/>
<rect x="678" y="868" width="10" height="11" fill="#ff5252"/>
<rect x="690" y="868" width="10" height="11" fill="#ff5252"/>
<rect x="702" y="868" width="10" height="9" fill="#ffcdd2"/>
<rect x="714" y="868" width="10" height="6" fill="#ffcdd2"/>
<rect x="726" y="868" width="10" height="3" fill="#ffcdd2"/>
<rect x="738" y="866" width="10" height="4" fill="#26a69a"/>
<rect x="750" y="864" width="10" height="6" fill="#26a69a"/>
<rect x="762" y="864" width="10" height="6" fill="#26a69a"/>
<rect x="774" y="863" width="10" height="7" fill="#26a69a"/>
<rect x="785" y="866" width="10" height="4" fill="#ace3da"/>
<rect x="797" y="868" width="10" height="2" fill="#ace3da"/>
<rect x="809" y="868" width="10" height="2" fill="#ace3da"/>
<rect x="821" y="868" width="10" height="4" fill="#ff5252"/>
<rect x="833" y="868" width="10" height="7" fill="#ff5252"/>
<rect x="845" y="868" width="10" height="8" fill="#ff5252"/>
<rect x="857" y="868" width="10" height="9" fill="#ff5252"/>
<rect x="869" y="868" width="10" height="11" fill="#ff5252"/>
<rect x="881" y="868" width="10" height="14" fill="#ff5252"/>
<rect x="893" y="868" width="10" height="16" fill="#ff5252"/>
<rect x="905" y="868" width="10" height="16" fill="#ffcdd2"/>
<rect x="916" y="868" width="10" height="15" fill="#ffcdd2"/>
<rect x="928" y="868" width="10" height="13" fill="#ffcdd2"/>
<rect x="940" y="868" width="10" height="10" fill="#ffcdd2"/>
<rect x="952" y="868" width="10" height="6" fill="#ffcdd2"/>
<rect x="964" y="868" width="10" height="4" fill="#ffcdd2"/>
<rect x="976" y="868" width="10" height="4" fill="#ffcdd2"/>
<rect x="988" y="868" width="10" height="6" fill="#ff5252"/>
<rect x="1000" y="868" width="10" height="9" fill="#ff5252"/>
<rect x="1012" y="868" width="10" height="10" fill="#ff5252"/>
<rect x="1024" y="868" width="10" height="12" fill="#ff5252"/>
<rect x="1036" y="868" width="10" height="14" fill="#ff5252"/>
<rect x="1047" y="868" width="10" height="13" fill="#ffcdd2"/>
<rect x="1059" y="868" width="10" height="11" fill="#ffcdd2"/>
<rect x="1071" y="868" width="10" height="9" fill="#ffcdd2"/>
<rect x="1083" y="868" width="10" height="6" fill="#ffcdd2"/>
<rect x="1095" y="868" width="10" height="2" fill="#26a69a"/>
<rect x="1107" y="866" width="10" height="4" fill="#26a69a"/>
<rect x="1119" y="864" width="10" height="6" fill="#26a69a"/>
<rect x="1131" y="862" width="10" height="8" fill="#26a69a"/>
<rect x="1143" y="859" width="10" height="11" fill="#26a69a"/>
<rect x="1155" y="858" width="10" height="12" fill="#26a69a"/>
<rect x="1167" y="858" width="10" height="12" fill="#26a69a"/>
<rect x="1178" y="859" width="10" height="11" fill="#ace3da"/>
<rect x="1190" y="861" width="10" height="9" fill="#ace3da"/>
<rect x="1202" y="864" width="10" height="6" fill="#ace3da"/>
<rect x="1214" y="866" width="10" height="4" fill="#ace3da"/>
<rect x="1226" y="866" width="10" height="4" fill="#26a69a"/>
<rect x="1238" y="867" width="10" height="3" fill="#ace3da"/>
<rect x="1250" y="868" width="10" height="2" fill="#ace3da"/>
<rect x="1262" y="868" width="10" height="2" fill="#26a69a"/>
<rect x="1274" y="867" width="10" height="3" fill="#26a69a"/>
<rect x="1286" y="868" width="10" height="2" fill="#ace3da"/>
<rect x="1298" y="865" width="10" height="5" fill="#26a69a"/>
<rect x="1309" y="868" width="10" height="3" fill="#ff5252"/>
<rect x="1321" y="868" width="10" height="4" fill="#ff5252"/>
<rect x="1333" y="868" width="10" height="4" fill="#ff5252"/>
<rect x="1345" y="868" width="10" height="3" fill="#ffcdd2"/>
<rect x="1357" y="867" width="10" height="3" fill="#26a69a"/>
<rect x="1369" y="867" width="10" height="3" fill="#26a69a"/>
<rect x="1381" y="867" width="10" height="3" fill="#26a69a"/>
<rect x="1393" y="866" width="10" height="4" fill="#26a69a"/>
<rect x="1405" y="865" width="10" height="5" fill="#26a69a"/>
<rect x="1417" y="865" width="10" height="5" fill="#26a69a"/>
<rect x="1428" y="864" width="10" height="6" fill="#26a69a"/>
<rect x="1440" y="864" width="10" height="6" fill="#26a69a"/>
<rect x="1452" y="866" width="10" height="4" fill="#ace3da"/>
<rect x="1464" y="868" width="10" height="2" fill="#ff5252"/>
<rect x="1476" y="868" width="10" height="4" fill="#ff5252"/>
<rect x="1488" y="868" width="10" height="4" fill="#ff5252"/>
<rect x="1500" y="868" width="10" height="6" fill="#ff5252"/>
<rect x="1512" y="868" width="10" height="10" fill="#ff5252"/>
<rect x="1524" y="868" width="10" height="11" fill="#ff5252"/>
<rect x="1536" y="868" width="10" height="10" fill="#ffcdd2"/>
<rect x="1548" y="868" width="10" height="6" fill="#ffcdd2"/>
<rect x="1559" y="868" width="10" height="5" fill="#ffcdd2"/>
<rect x="1571" y="868" width="10" height="5" fill="#ffcdd2"/>
<rect x="1583" y="868" width="10" height="4" fill="#ffcdd2"/>
<rect x="1595" y="868" width="10" height="3" fill="#ffcdd2"/>
<rect x="1607" y="868" width="10" height="3" fill="#ff5252"/>
<rect x="1619" y="868" width="10" height="4" fill="#ff5252"/>
<rect x="1631" y="868" width="10" height="7" fill="#ff5252"/>
<rect x="1643" y="868" width="10" height="6" fill="#ffcdd2"/>
<rect x="1655" y="868" width="10" height="8" fill="#ff5252"/>
<rect x="1667" y="868" width="10" height="8" fill="#ff5252"/>
<rect x="1679" y="868" width="10" height="6" fill="#ffcdd2"/>
<rect x="1690" y="868" width="10" height="2" fill="#ffcdd2"/>
<rect x="1702" y="868" width="10" height="2" fill="#26a69a"/>
<rect x="1714" y="868" width="10" height="2" fill="#26a69a"/>
<rect x="1726" y="868" width="10" height="2" fill="#ace3da"/>
<rect x="1738" y="868" width="10" height="2" fill="#ff5252"/>
<rect x="1750" y="868" width="10" height="2" fill="#ff5252"/>
<rect x="1762" y="868" width="10" height="3" fill="#ff5252"/>
<rect x="1774" y="868" width="10" height="3" fill="#ffcdd2"/>
<rect x="1786" y="868" width="10" height="5" fill="#ff5252"/>
<rect x="1798" y="868" width="10" height="7" fill="#ff5252"/>
<rect x="1810" y="868" width="10" height="9" fill="#ff5252"/>
<rect x="1821" y="868" width="10" height="10" fill="#ff5252"/>
<rect x="1833" y="868" width="10" height="10" fill="#ff5252"/>
<rect x="1845" y="868" width="10" height="13" fill="#ff5252"/>
<rect x="1857" y="868" width="10" height="13" fill="#ff5252"/>
<rect x="1869" y="868" width="10" height="11" fill="#ffcdd2"/>
</g>
<polyline points="1.2,843.0 15.0,842.5 28.8,838.8 40.0,844.5 52.5,852.5 64.5,858.8 76.5,861.8 88.2,859.5 100.2,853.8 112.0,846.2 124.0,840.0 136.0,835.0 147.8,831.2 159.8,826.2 171.5,823.0 183.5,821.2 195.5,822.5 207.2,821.2 219.2,820.5 231.0,818.8 243.0,818.2 255.0,822.0 266.8,825.0 278.8,828.2 290.5,831.2 302.5,832.5 314.5,835.8 326.2,839.5 338.2,841.2 350.2,848.0 362.0,848.8 374.0,850.8 385.8,851.2 397.8,850.8 409.8,849.5 421.5,847.5 433.5,845.0 445.5,842.5 457.2,840.0 469.2,837.5 481.0,837.0 493.0,837.5 505.0,838.0 516.8,838.8 528.8,838.8 530.0,839.5 555.0,840.0 580.0,840.5 605.0,841.2 630.0,842.0 647.5,843.8 659.5,848.0 671.2,853.0 683.2,856.2 695.0,858.0 707.0,858.0 719.0,855.5 730.8,852.0 742.8,848.2 754.5,845.0 766.5,843.2 778.5,840.8 790.2,842.5 802.2,844.2 814.0,846.2 826.0,849.2 838.0,852.5 849.8,855.0 861.8,858.8 873.5,863.2 885.5,868.8 897.5,874.5 909.2,878.0 921.2,880.0 933.0,880.8 945.0,880.0 957.0,877.5 968.8,875.0 980.8,874.2 992.5,876.2 1004.5,880.0 1016.5,883.8 1028.2,888.8 1040.2,893.0 1052.0,895.0 1060.0,894.5 1072.5,895.5 1087.8,893.0 1099.8,888.8 1111.5,884.5 1123.5,881.2 1135.5,876.2 1147.2,871.2 1159.2,867.5 1171.0,865.0 1183.0,864.2 1195.0,864.2 1206.8,865.5 1218.8,867.0 1230.5,865.0 1242.5,865.8 1254.5,865.8 1266.2,865.0 1278.2,864.2 1290.0,863.8 1302.0,862.5 1314.0,865.5 1325.8,867.5 1337.8,868.0 1349.5,867.0 1361.5,865.0 1373.5,864.2 1385.2,863.2 1397.2,861.5 1409.0,860.5 1421.0,858.8 1433.0,856.0 1444.8,854.5 1456.8,856.2 1468.5,859.2 1480.5,860.8 1492.5,862.5 1504.2,866.2 1516.2,872.5 1528.0,875.0 1540.0,875.5 1552.0,875.8 1563.8,875.0 1575.8,875.0 1587.5,874.2 1590.0,874.3 1601.9,874.1 1611.4,875.4 1623.3,876.7 1635.1,880.4 1647.0,881.7 1658.9,883.6 1671.0,884.9 1682.9,883.3 1694.8,880.9 1706.7,879.6 1718.5,878.3 1730.4,878.8 1742.3,880.1 1754.2,881.5 1766.0,882.2 1777.9,882.2 1789.8,884.1 1801.9,888.6 1813.8,892.0 1825.7,894.1 1837.6,896.5 1849.4,901.2 1861.3,904.4 1873.2,904.7" fill="none" stroke="#2196f3" stroke-width="2.4" stroke-linejoin="round"/>
<polyline points="1.2,834.2 15.0,836.2 28.8,837.5 40.0,840.0 52.5,843.0 64.5,846.2 76.5,849.2 88.2,851.2 100.2,851.8 112.0,850.8 124.0,848.2 136.0,845.8 147.8,842.0 159.8,838.0 171.5,835.0 183.5,832.5 195.5,830.0 207.2,828.2 219.2,826.8 231.0,825.0 243.0,824.0 255.0,823.8 266.8,824.2 278.8,825.0 290.5,826.2 302.5,827.5 314.5,829.5 326.2,831.2 338.2,833.8 350.2,837.0 362.0,840.0 374.0,842.5 385.8,844.5 397.8,845.8 409.8,846.2 421.5,846.2 433.5,845.8 445.5,845.0 457.2,843.8 469.2,842.5 481.0,841.2 493.0,840.0 505.0,839.5 516.8,839.2 528.8,839.2 530.0,839.2 555.0,839.5 580.0,840.0 605.0,840.5 630.0,840.8 647.5,841.8 659.5,843.2 671.2,845.8 683.2,848.2 695.0,850.0 707.0,852.0 719.0,852.5 730.8,852.5 742.8,851.2 754.5,849.5 766.5,848.0 778.5,846.8 790.2,845.8 802.2,845.5 814.0,845.5 826.0,846.2 838.0,847.5 849.8,849.2 861.8,851.2 873.5,853.8 885.5,856.8 897.5,860.5 909.2,863.8 921.2,867.0 933.0,869.5 945.0,871.2 957.0,872.5 968.8,873.0 980.8,873.2 992.5,873.8 1004.5,875.5 1016.5,877.5 1028.2,879.5 1040.2,882.5 1052.0,885.0 1060.0,886.2 1072.5,888.0 1087.8,889.2 1099.8,888.8 1111.5,887.5 1123.5,886.2 1135.5,884.2 1147.2,881.8 1159.2,878.8 1171.0,876.2 1183.0,873.8 1195.0,871.8 1206.8,870.5 1218.8,869.5 1230.5,868.8 1242.5,868.0 1254.5,867.5 1266.2,867.0 1278.2,866.5 1290.0,865.8 1302.0,865.0 1314.0,865.0 1325.8,865.8 1337.8,866.2 1349.5,866.5 1361.5,866.2 1373.5,865.8 1385.2,865.5 1397.2,864.5 1409.0,863.8 1421.0,862.5 1433.0,861.2 1444.8,860.0 1456.8,859.2 1468.5,859.2 1480.5,859.5 1492.5,860.0 1504.2,861.5 1516.2,863.8 1528.0,865.8 1540.0,868.0 1552.0,869.5 1563.8,870.5 1575.8,871.2 1587.5,872.0 1590.0,873.0 1601.9,872.7 1611.4,873.0 1623.3,873.5 1635.1,874.9 1647.0,876.2 1658.9,877.5 1671.0,878.8 1682.9,879.9 1694.8,880.4 1706.7,880.1 1718.5,879.9 1730.4,879.6 1742.3,879.6 1754.2,879.9 1766.0,880.4 1777.9,880.7 1789.8,881.5 1801.9,883.0 1813.8,884.9 1825.7,886.7 1837.6,888.8 1849.4,891.5 1861.3,894.1 1873.2,896.2" fill="none" stroke="#ff6d00" stroke-width="2.4" stroke-linejoin="round"/>
</g>
<path d="M1994 305 H2130 a4 4 0 0 1 4 4 V345 a4 4 0 0 1 -4 4 H1994 Z" fill="#ff9800"/>
<text x="2014.60" y="337.6" font-size="30" fill="#000000" stroke="#000000" stroke-width="0.15" textLength="104.40" lengthAdjust="spacingAndGlyphs">1.32607</text>
<path d="M1994 349 H2130 a4 4 0 0 1 4 4 V387 a4 4 0 0 1 -4 4 H1994 Z" fill="#4caf50"/>
<text x="2014.60" y="380.6" font-size="30" fill="#ffffff" stroke="#ffffff" stroke-width="0.15" textLength="104.40" lengthAdjust="spacingAndGlyphs">1.31500</text>
<path d="M1994 391 H2130 a4 4 0 0 1 4 4 V431 a4 4 0 0 1 -4 4 H1994 Z" fill="#089981"/>
<text x="2014.60" y="423.6" font-size="30" fill="#ffffff" stroke="#ffffff" stroke-width="0.15" textLength="104.40" lengthAdjust="spacingAndGlyphs">1.30844</text>
<path d="M1994 749 H2098 a4 4 0 0 1 4 4 V789 a4 4 0 0 1 -4 4 H1994 Z" fill="#9e57c3"/>
<text x="2014.22" y="782.2" font-size="30" fill="#ffffff" stroke="#ffffff" stroke-width="0.15" textLength="73.65" lengthAdjust="spacingAndGlyphs">31.75</text>
<g clip-path="url(#cd)">
<path d="M1994 856 H2145 a4 4 0 0 1 4 4 V895 a4 4 0 0 1 -4 4 H1994 Z" fill="#fdcdd1"/>
<text x="2014.57" y="888.8" font-size="30" fill="#000000" stroke="#000000" stroke-width="0.15" textLength="116.96" lengthAdjust="spacingAndGlyphs">−0.00241</text>
<path d="M1994 899 H2145 a4 4 0 0 1 4 4 V939 a4 4 0 0 1 -4 4 H1994 Z" fill="#ff6d00"/>
<text x="2014.57" y="931.8" font-size="30" fill="#ffffff" stroke="#ffffff" stroke-width="0.15" textLength="116.96" lengthAdjust="spacingAndGlyphs">−0.00713</text>
</g>
<text x="20.60" y="48.7" font-size="30" fill="#131722" stroke="#131722" stroke-width="0.15" textLength="121.90" lengthAdjust="spacingAndGlyphs">GBP/USD</text>
<text x="152.12" y="48.7" font-size="30" fill="#131722" stroke="#131722" stroke-width="0.15" textLength="68.93" lengthAdjust="spacingAndGlyphs">Spot,</text>
<text x="232.03" y="48.7" font-size="30" fill="#131722" stroke="#131722" stroke-width="0.15" textLength="32.94" lengthAdjust="spacingAndGlyphs">1D</text>
<text x="283.20" y="48.8" font-size="30" fill="#131722" stroke="#131722" stroke-width="0.15" textLength="20.89" lengthAdjust="spacingAndGlyphs">O</text>
<text x="304.09" y="48.8" font-size="30" fill="#089981" stroke="#089981" stroke-width="0.15" textLength="103.77" lengthAdjust="spacingAndGlyphs">1.30503</text>
<text x="427.31" y="48.8" font-size="30" fill="#131722" stroke="#131722" stroke-width="0.15" textLength="19.38" lengthAdjust="spacingAndGlyphs">H</text>
<text x="447.28" y="48.8" font-size="30" fill="#089981" stroke="#089981" stroke-width="0.15" textLength="103.97" lengthAdjust="spacingAndGlyphs">1.30875</text>
<text x="570.29" y="48.8" font-size="30" fill="#131722" stroke="#131722" stroke-width="0.15" textLength="15.14" lengthAdjust="spacingAndGlyphs">L</text>
<text x="586.27" y="48.8" font-size="30" fill="#089981" stroke="#089981" stroke-width="0.15" textLength="104.38" lengthAdjust="spacingAndGlyphs">1.30460</text>
<text x="708.92" y="48.8" font-size="30" fill="#131722" stroke="#131722" stroke-width="0.15" textLength="17.01" lengthAdjust="spacingAndGlyphs">C</text>
<text x="727.46" y="48.8" font-size="30" fill="#089981" stroke="#089981" stroke-width="0.15" textLength="105.10" lengthAdjust="spacingAndGlyphs">1.30844</text>
<text x="850.85" y="48.8" font-size="30" fill="#089981" stroke="#089981" stroke-width="0.15" textLength="119.80" lengthAdjust="spacingAndGlyphs">+0.00342</text>
<text x="982.09" y="48.8" font-size="30" fill="#089981" stroke="#089981" stroke-width="0.15" textLength="111.92" lengthAdjust="spacingAndGlyphs">(+0.26%)</text>
<text x="19.74" y="90.7" font-size="30" fill="#131722" stroke="#131722" stroke-width="0.15" textLength="39.67" lengthAdjust="spacingAndGlyphs">MA</text>
<text x="70.93" y="90.7" font-size="30" fill="#131722" stroke="#131722" stroke-width="0.15" textLength="66.34" lengthAdjust="spacingAndGlyphs">(200,</text>
<text x="147.11" y="90.7" font-size="30" fill="#131722" stroke="#131722" stroke-width="0.15" textLength="77.71" lengthAdjust="spacingAndGlyphs">close,</text>
<text x="235.24" y="90.7" font-size="30" fill="#131722" stroke="#131722" stroke-width="0.15" textLength="27.02" lengthAdjust="spacingAndGlyphs">0)</text>
<text x="281.10" y="90.8" font-size="30" fill="#ff9800" stroke="#ff9800" stroke-width="0.15" textLength="103.26" lengthAdjust="spacingAndGlyphs">1.32607</text>
<text x="21.11" y="708.8" font-size="30" fill="#131722" stroke="#131722" stroke-width="0.15" textLength="39.64" lengthAdjust="spacingAndGlyphs">RSI</text>
<text x="71.63" y="708.8" font-size="30" fill="#131722" stroke="#131722" stroke-width="0.15" textLength="51.83" lengthAdjust="spacingAndGlyphs">(14)</text>
<text x="142.44" y="708.8" font-size="30" fill="#9e57c3" stroke="#9e57c3" stroke-width="0.15" textLength="72.43" lengthAdjust="spacingAndGlyphs">31.75</text>
<text x="19.56" y="855.4" font-size="30" fill="#131722" stroke="#131722" stroke-width="0.15" textLength="76.82" lengthAdjust="spacingAndGlyphs">MACD</text>
<text x="107.42" y="855.4" font-size="30" fill="#131722" stroke="#131722" stroke-width="0.15" textLength="50.46" lengthAdjust="spacingAndGlyphs">(12,</text>
<text x="168.00" y="855.4" font-size="30" fill="#131722" stroke="#131722" stroke-width="0.15" textLength="41.85" lengthAdjust="spacingAndGlyphs">26,</text>
<text x="219.10" y="855.4" font-size="30" fill="#131722" stroke="#131722" stroke-width="0.15" textLength="78.12" lengthAdjust="spacingAndGlyphs">close,</text>
<text x="308.14" y="855.4" font-size="30" fill="#131722" stroke="#131722" stroke-width="0.15" textLength="25.50" lengthAdjust="spacingAndGlyphs">9)</text>
<text x="354.07" y="855.4" font-size="30" fill="#ffcdd2" stroke="#ffcdd2" stroke-width="0.15" textLength="116.56" lengthAdjust="spacingAndGlyphs">−0.00241</text>
<text x="492.80" y="855.4" font-size="30" fill="#2196f3" stroke="#2196f3" stroke-width="0.15" textLength="119.85" lengthAdjust="spacingAndGlyphs">−0.00955</text>
<text x="631.55" y="855.4" font-size="30" fill="#ff6d00" stroke="#ff6d00" stroke-width="0.15" textLength="119.60" lengthAdjust="spacingAndGlyphs">−0.00713</text>
<text x="-18.00" y="962.0" font-size="30" fill="#131722" stroke="#131722" stroke-width="0" font-weight="bold" textLength="46.01" lengthAdjust="spacingAndGlyphs">Apr</text>
<text x="238.44" y="962.0" font-size="30" fill="#131722" stroke="#131722" stroke-width="0" font-weight="bold" textLength="54.27" lengthAdjust="spacingAndGlyphs">May</text>
<text x="503.30" y="962.0" font-size="30" fill="#131722" stroke="#131722" stroke-width="0" font-weight="bold" textLength="50.76" lengthAdjust="spacingAndGlyphs">Jun</text>
<text x="757.20" y="962.0" font-size="30" fill="#131722" stroke="#131722" stroke-width="0" font-weight="bold" textLength="43.03" lengthAdjust="spacingAndGlyphs">Jul</text>
<text x="1027.00" y="962.0" font-size="30" fill="#131722" stroke="#131722" stroke-width="0" font-weight="bold" textLength="52.19" lengthAdjust="spacingAndGlyphs">Aug</text>
<text x="1278.00" y="962.0" font-size="30" fill="#131722" stroke="#131722" stroke-width="0" font-weight="bold" textLength="48.99" lengthAdjust="spacingAndGlyphs">Sep</text>
<text x="1540.15" y="962.0" font-size="30" fill="#131722" stroke="#131722" stroke-width="0" font-weight="bold" textLength="47.34" lengthAdjust="spacingAndGlyphs">Oct</text>
<text x="1811.15" y="962.0" font-size="30" fill="#131722" stroke="#131722" stroke-width="0" font-weight="bold" textLength="52.46" lengthAdjust="spacingAndGlyphs">Nov</text>
<g shape-rendering="crispEdges" fill="#eff1f5">
<rect x="0" y="0" width="2160" height="2"/><rect x="0" y="985" width="2160" height="2"/>
<rect x="2158" y="0" width="2" height="987"/>
</g>
<rect x="0" y="0" width="1.4" height="987" fill="#eff1f5"/>
</svg></body></html>
